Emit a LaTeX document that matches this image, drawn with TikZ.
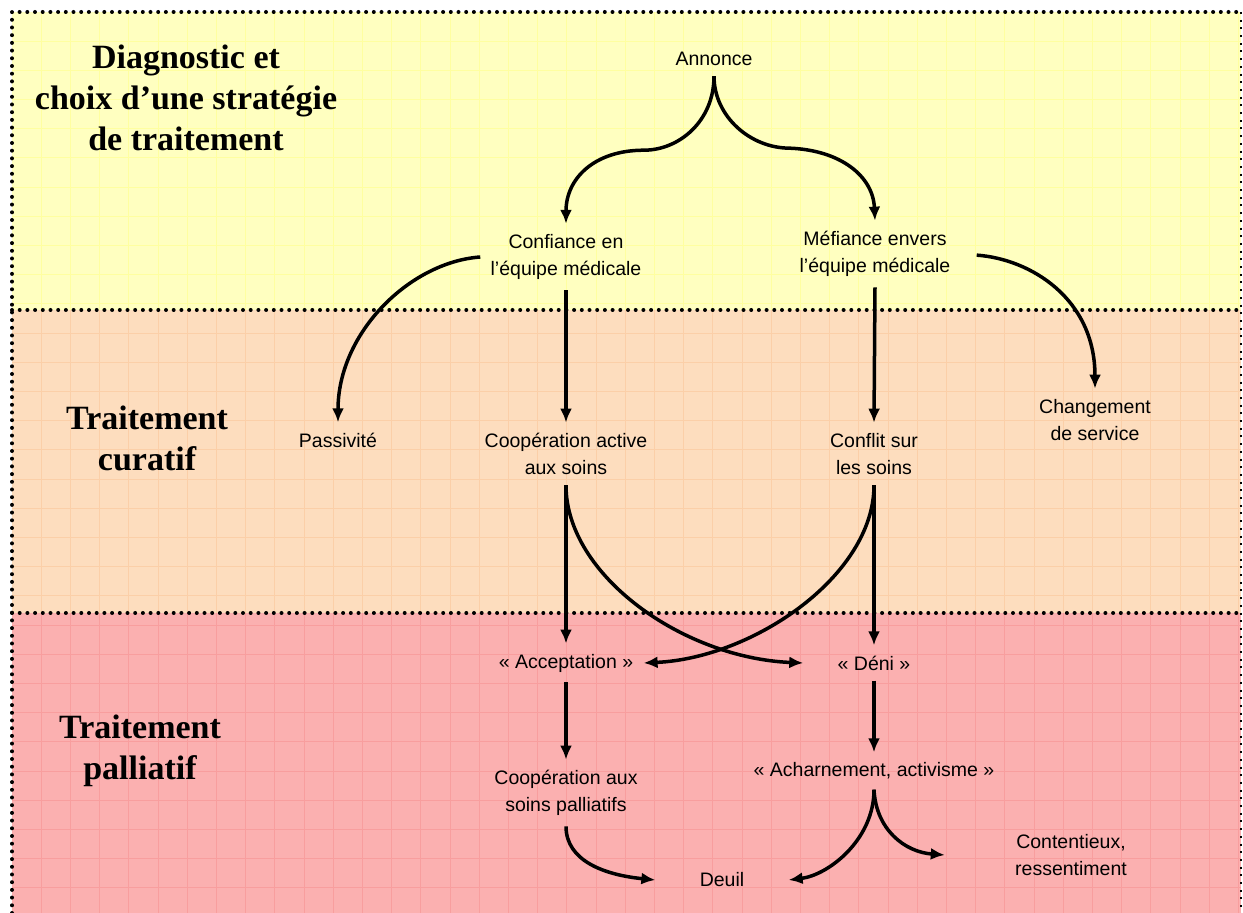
\documentclass[tikz,border=0pt]{standalone}
\usepackage{fontspec}
\setmainfont{Liberation Serif}
\setsansfont{Liberation Sans}
\usetikzlibrary{arrows.meta}
\definecolor{bandA}{RGB}{255,255,192}
\definecolor{gridA}{RGB}{255,255,160}
\definecolor{bandB}{RGB}{253,221,190}
\definecolor{gridB}{RGB}{251,207,168}
\definecolor{bandC}{RGB}{251,176,176}
\definecolor{gridC}{RGB}{248,158,158}

\begin{document}
\begin{tikzpicture}[x=0.5pt, y=-0.5pt,
    every node/.style={font=\sffamily\fontsize{9.75}{13.75}\selectfont, align=center, inner sep=5pt},
    phase/.style={font=\rmfamily\bfseries\fontsize{17}{20.5}\selectfont},
    arr/.style={-{Latex[length=7pt,width=6pt]}, line width=1.75pt},
    dots/.style={line width=2pt, line cap=round, dash pattern=on 0pt off 3.85pt}]

    \useasboundingbox (0,0) rectangle (1243,913);

    % Bands
    \fill[bandA] (12,12) rectangle (1241,310);
    \fill[bandB] (12,310) rectangle (1241,613);
    \fill[bandC] (12,613) rectangle (1241,913);
    \foreach \k in {1,...,42} {
        \draw[gridA, line width=0.5pt] (12+29.2*\k,12) -- (12+29.2*\k,310);
        \draw[gridB, line width=0.5pt] (12+29.2*\k,310) -- (12+29.2*\k,613);
        \draw[gridC, line width=0.5pt] (12+29.2*\k,613) -- (12+29.2*\k,913);
    }
    \foreach \k in {1,...,10} \draw[gridA, line width=0.5pt] (12,12+29.2*\k) -- (1241,12+29.2*\k);
    \foreach \k in {11,...,20} \draw[gridB, line width=0.5pt] (12,12+29.2*\k) -- (1241,12+29.2*\k);
    \foreach \k in {21,...,30} \draw[gridC, line width=0.5pt] (12,12+29.2*\k) -- (1241,12+29.2*\k);
    \draw[dots] (12,913) -- (12,12) -- (1241,12);
    \draw[dots] (12,310) -- (1241,310);
    \draw[dots] (12,613) -- (1241,613);
    \draw[line width=1pt, dash pattern=on 1pt off 2.85pt] (1241,12) -- (1241,913);

    % Phases
    \node[phase] at (186,98) (diag) {Diagnostic et\\choix d’une stratégie\\de traitement};
    \node[phase] at (147,438) (curatif) {Traitement\\curatif};
    \node[phase] at (140,751) (palliatif) {Traitement\\palliatif};

    % Nodes
    \node at (714,59) (annonce) {Annonce};
    \node at (566,257) (confiance) {Confiance en\\l’équipe médicale};
    \node at (875,254) (mefiance) {Méfiance envers\\l’équipe médicale};
    \node at (338,440) (passivite) {Passivité};
    \node at (566,454) (coopactive) {Coopération active\\aux soins};
    \node at (874,454) (conflit) {Conflit sur\\les soins};
    \node at (1095,420) (changement) {Changement\\de service};
    \node at (566,663) (acceptation) {« Acceptation »};
    \node[inner xsep=17pt] at (874,663) (deni) {« Déni »};
    \node at (874,771) (acharnement) {« Acharnement, activisme »};
    \node at (566,793) (coopsoins) {Coopération aux\\soins palliatifs};
    \node[inner xsep=22pt] at (722,880) (deuil) {Deuil};
    \node[inner xsep=35pt] at (1071,855) (contentieux) {Contentieux,\\ressentiment};

    % Arrows
    \draw[arr] (annonce.south) .. controls +(0,45) and +(35,0) .. ++(-70,74)
        .. controls +(-50,0) and +(0,-45) .. (confiance.north);
    \draw[arr] (annonce.south) .. controls +(0,40) and +(-40,0) .. ++(76,72)
        .. controls +(50,2) and +(-2,-45) .. (mefiance.north);
    \draw[arr] (confiance.west) .. controls +(-70,5) and +(0,-90) .. (passivite.north);
    \draw[arr, shorten <=8pt] (mefiance.east) .. controls +(70,5) and +(0,-90) .. (changement.north);
    \draw[arr] (confiance.south) -- (coopactive.north);
    \draw[arr] (mefiance.south) -- (conflit.north);
    \draw[arr] (coopactive.south) -- (acceptation.north);
    \draw[arr] (conflit.south) -- (deni.north);
    \draw[arr] (coopactive.south) .. controls +(0,90) and +(-120,-5) .. (deni.west);
    \draw[arr] (conflit.south) .. controls +(0,90) and +(110,-5) .. (acceptation.east);
    \draw[arr] (acceptation.south) -- (coopsoins.north);
    \draw[arr] (deni.south) -- (acharnement.north);
    \draw[arr] (coopsoins.south) .. controls +(0,35) and +(-50,-5) .. (deuil.west);
    \draw[arr] (acharnement.south) .. controls +(0,50) and +(40,-5) .. (deuil.east);
    \draw[arr] (acharnement.south) .. controls +(2,40) and +(-40,-3) .. (contentieux.west);

\end{tikzpicture}
\end{document}
